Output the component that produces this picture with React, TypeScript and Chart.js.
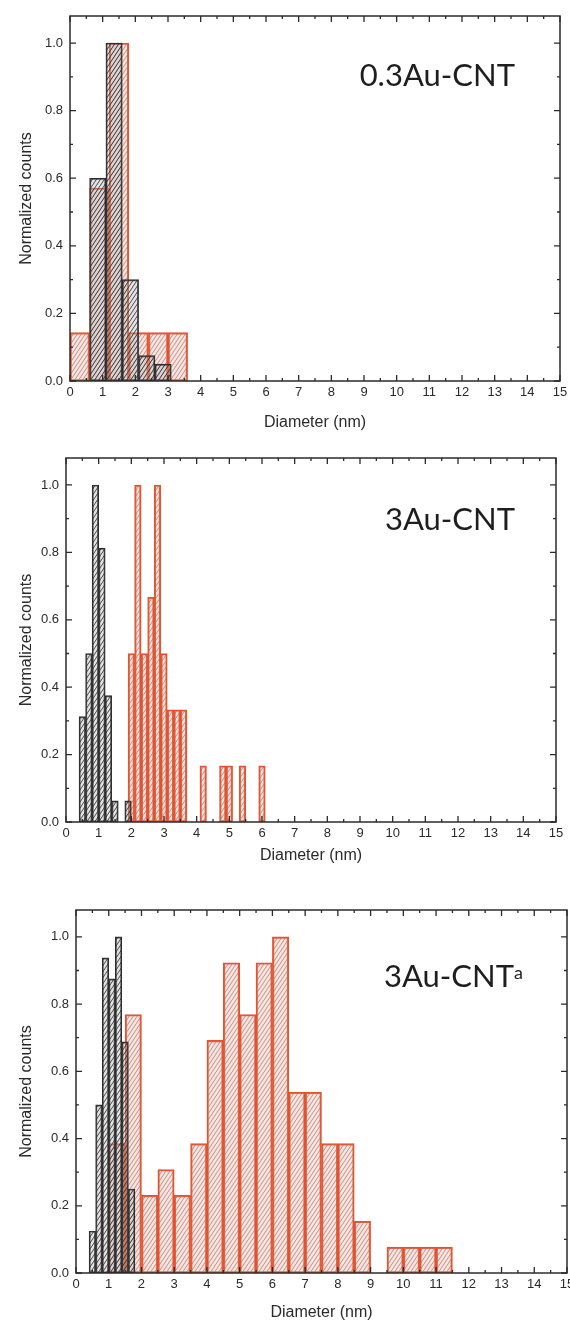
import React, { useEffect, useRef } from 'react';
import { Chart, registerables } from 'chart.js';
Chart.register(...registerables);

// ---------- data ----------
const X_TICKS = [0, 1, 2, 3, 4, 5, 6, 7, 8, 9, 10, 11, 12, 13, 14, 15];
const X_MINOR_TICKS = [0.5, 1.5, 2.5, 3.5, 4.5, 5.5, 6.5, 7.5, 8.5, 9.5, 10.5, 11.5, 12.5, 13.5, 14.5];
const Y_TICKS = [0, 0.2, 0.4, 0.6, 0.8, 1.0];
const Y_MINOR_TICKS = [0.1, 0.3, 0.5, 0.7, 0.9];
const X_MIN = 0;
const X_MAX = 15;
const Y_MAX = 1.08;

const X_TITLE = 'Diameter (nm)';
const Y_TITLE = 'Normalized counts';

// Panel 1: 0.3Au-CNT
const P1_BLACK_X = [0.85, 1.35, 1.85, 2.35, 2.85];
const P1_BLACK_Y = [0.6, 1.0, 0.3, 0.075, 0.05];
const P1_RED_X = [0.3, 0.9, 1.5, 2.1, 2.7, 3.3];
const P1_RED_Y = [0.143, 0.571, 1.0, 0.143, 0.143, 0.143];

// Panel 2: 3Au-CNT
const P2_BLACK_X = [0.5, 0.7, 0.9, 1.1, 1.3, 1.5, 1.9];
const P2_BLACK_Y = [0.3125, 0.5, 1.0, 0.8125, 0.375, 0.0625, 0.0625];
const P2_RED_X = [2.0, 2.2, 2.4, 2.6, 2.8, 3.0, 3.2, 3.4, 3.6, 4.2, 4.8, 5.0, 5.4, 6.0];
const P2_RED_Y = [0.5, 1.0, 0.5, 0.667, 1.0, 0.5, 0.333, 0.333, 0.333, 0.167, 0.167, 0.167, 0.167, 0.167];

// Panel 3: 3Au-CNT^a
const P3_BLACK_X = [0.5, 0.7, 0.9, 1.1, 1.3, 1.5, 1.7];
const P3_BLACK_Y = [0.125, 0.5, 0.9375, 0.875, 1.0, 0.6875, 0.25];
const P3_RED_X = [1.25, 1.75, 2.25, 2.75, 3.25, 3.75, 4.25, 4.75, 5.25, 5.75, 6.25, 6.75, 7.25, 7.75, 8.25, 8.75, 9.75, 10.25, 10.75, 11.25];
const P3_RED_Y = [0.385, 0.769, 0.231, 0.308, 0.231, 0.385, 0.692, 0.923, 0.769, 0.923, 1.0, 0.538, 0.538, 0.385, 0.385, 0.154, 0.077, 0.077, 0.077, 0.077];

// ---------- layout / style ----------
const TICK_FONT = { family: '"Liberation Sans", Arial, sans-serif', size: 13 };
const TITLE_FONT = { family: '"Liberation Sans", Arial, sans-serif', size: 16 };
const TEXT_COLOR = '#2a2a2a';

type PanelCfg = {
  top: number; height: number;
  padTop: number; plotLeft: number; padRight: number; xAxisH: number;
  blackX: number[]; blackY: number[]; redX: number[]; redY: number[];
  label: string; sup?: string; labelRight: number; labelTop: number;
};

const PANELS: PanelCfg[] = [
  { top: 0, height: 432, padTop: 16, plotLeft: 70, padRight: 10, xAxisH: 51,
    blackX: P1_BLACK_X, blackY: P1_BLACK_Y, redX: P1_RED_X, redY: P1_RED_Y,
    label: '0.3Au-CNT', labelRight: 55, labelTop: 59 },
  { top: 436, height: 429, padTop: 22, plotLeft: 66, padRight: 14, xAxisH: 43,
    blackX: P2_BLACK_X, blackY: P2_BLACK_Y, redX: P2_RED_X, redY: P2_RED_Y,
    label: '3Au-CNT', labelRight: 55, labelTop: 503 },
  { top: 880, height: 442, padTop: 30, plotLeft: 76, padRight: 3, xAxisH: 49,
    blackX: P3_BLACK_X, blackY: P3_BLACK_Y, redX: P3_RED_X, redY: P3_RED_Y,
    label: '3Au-CNT', sup: 'a', labelRight: 47, labelTop: 960 },
];

function makeHatch(line: string, bg: string, w: number, h: number, lw: number) {
  const c = document.createElement('canvas');
  c.width = w; c.height = h;
  const g = c.getContext('2d')!;
  g.fillStyle = bg;
  g.fillRect(0, 0, w, h);
  g.strokeStyle = line;
  g.lineWidth = lw;
  for (const k of [-w, 0, w]) {
    g.beginPath();
    g.moveTo(k, h);
    g.lineTo(k + w, 0);
    g.stroke();
  }
  return g.createPattern(c, 'repeat') as CanvasPattern;
}

const framePlugin = {
  id: 'frameTicks',
  afterDatasetsDraw(chart: any) {
    const { ctx, chartArea: a, scales } = chart;
    const xs = scales.x, ys = scales.y;
    ctx.save();
    ctx.strokeStyle = '#2b2b2b';
    ctx.lineWidth = 1.5;
    ctx.strokeRect(a.left, a.top, a.right - a.left, a.bottom - a.top);
    ctx.lineWidth = 1.3;
    const drawX = (vals: number[], len: number) => {
      for (const v of vals) {
        const px = xs.getPixelForValue(v);
        ctx.beginPath();
        ctx.moveTo(px, a.bottom); ctx.lineTo(px, a.bottom - len);
        ctx.moveTo(px, a.top); ctx.lineTo(px, a.top + len);
        ctx.stroke();
      }
    };
    const drawY = (vals: number[], len: number) => {
      for (const v of vals) {
        const py = ys.getPixelForValue(v);
        ctx.beginPath();
        ctx.moveTo(a.left, py); ctx.lineTo(a.left + len, py);
        ctx.moveTo(a.right, py); ctx.lineTo(a.right - len, py);
        ctx.stroke();
      }
    };
    drawX(X_TICKS, 6);
    drawX(X_MINOR_TICKS, 3);
    drawY(Y_TICKS, 6);
    drawY(Y_MINOR_TICKS, 3);
    ctx.restore();
  },
};

function Panel({ cfg }: { cfg: PanelCfg }) {
  const ref = useRef<HTMLCanvasElement>(null);
  useEffect(() => {
    const blackHatch = makeHatch('rgba(30,30,30,0.85)', 'rgba(175,175,175,0.35)', 4, 6, 0.9);
    const redHatch = makeHatch('rgba(225,95,70,0.8)', 'rgba(190,180,180,0.3)', 4, 6, 0.9);
    const zeroPad = (s: any) => { s.paddingLeft = 0; s.paddingRight = 0; s.paddingTop = 0; s.paddingBottom = 0; };
    const chart = new Chart(ref.current!, {
      type: 'bar',
      data: {
        datasets: [
          {
            label: 'black',
            data: cfg.blackX.map((x, i) => ({ x, y: cfg.blackY[i] })),
            xAxisID: 'x',
            backgroundColor: blackHatch,
            borderColor: '#2e2e2e',
            borderWidth: 1.2,
            borderSkipped: false,
            grouped: false,
            barPercentage: 1,
            categoryPercentage: 1,
          },
          {
            label: 'red',
            data: cfg.redX.map((x, i) => ({ x, y: cfg.redY[i] })),
            xAxisID: 'x2',
            backgroundColor: redHatch,
            borderColor: '#e4532e',
            borderWidth: 1.5,
            borderSkipped: false,
            grouped: false,
            barPercentage: 1,
            categoryPercentage: 1,
          },
        ],
      } as any,
      options: {
        responsive: false,
        animation: false,
        devicePixelRatio: 1,
        layout: { padding: { top: cfg.padTop, right: cfg.padRight, left: 0, bottom: 0 } },
        plugins: { legend: { display: false }, tooltip: { enabled: false } },
        scales: {
          x: {
            type: 'linear', min: X_MIN, max: X_MAX, offset: false,
            grid: { display: false, drawTicks: false, offset: false },
            border: { display: false },
            afterBuildTicks: (s: any) => { s.ticks = X_TICKS.map((v) => ({ value: v })); },
            afterFit: (s: any) => { s.height = cfg.xAxisH; zeroPad(s); },
            ticks: { autoSkip: false, maxRotation: 0, padding: 4, font: TICK_FONT, color: TEXT_COLOR },
            title: { display: true, text: X_TITLE, font: TITLE_FONT, color: TEXT_COLOR, padding: { top: 0, bottom: 0 } },
          },
          x2: {
            type: 'linear', display: false, position: 'bottom', min: X_MIN, max: X_MAX, offset: false,
            grid: { offset: false },
            afterBuildTicks: (s: any) => { s.ticks = X_TICKS.map((v) => ({ value: v })); },
          },
          y: {
            type: 'linear', min: 0, max: Y_MAX,
            grid: { display: false, drawTicks: false },
            border: { display: false },
            afterBuildTicks: (s: any) => { s.ticks = Y_TICKS.map((v) => ({ value: v })); },
            afterFit: (s: any) => { s.width = cfg.plotLeft; zeroPad(s); },
            ticks: { padding: 7, font: TICK_FONT, color: TEXT_COLOR, callback: (v: any) => Number(v).toFixed(1) },
            title: { display: true, text: Y_TITLE, font: TITLE_FONT, color: TEXT_COLOR, padding: { top: 17, bottom: 0 } },
          },
        },
      } as any,
      plugins: [framePlugin],
    });
    return () => chart.destroy();
  }, [cfg]);

  return (
    <>
      <canvas
        ref={ref}
        width={570}
        height={cfg.height}
        style={{ position: 'absolute', left: 0, top: cfg.top, width: 570, height: cfg.height }}
      />
      <div
        style={{
          position: 'absolute', right: cfg.labelRight, top: cfg.labelTop,
          fontFamily: 'Lato, "Open Sans", sans-serif', fontSize: 31, lineHeight: 1,
          color: '#1e1e1e', whiteSpace: 'nowrap',
        }}
      >
        {cfg.label}
        {cfg.sup ? <sup style={{ fontSize: 18, verticalAlign: 'top', position: 'relative', top: 3 }}>{cfg.sup}</sup> : null}
      </div>
    </>
  );
}

export default function App() {
  return (
    <div style={{ position: 'absolute', left: 0, top: 0, width: 570, height: 1322, background: '#ffffff', overflow: 'hidden' }}>
      {PANELS.map((p, i) => <Panel key={i} cfg={p} />)}
    </div>
  );
}
